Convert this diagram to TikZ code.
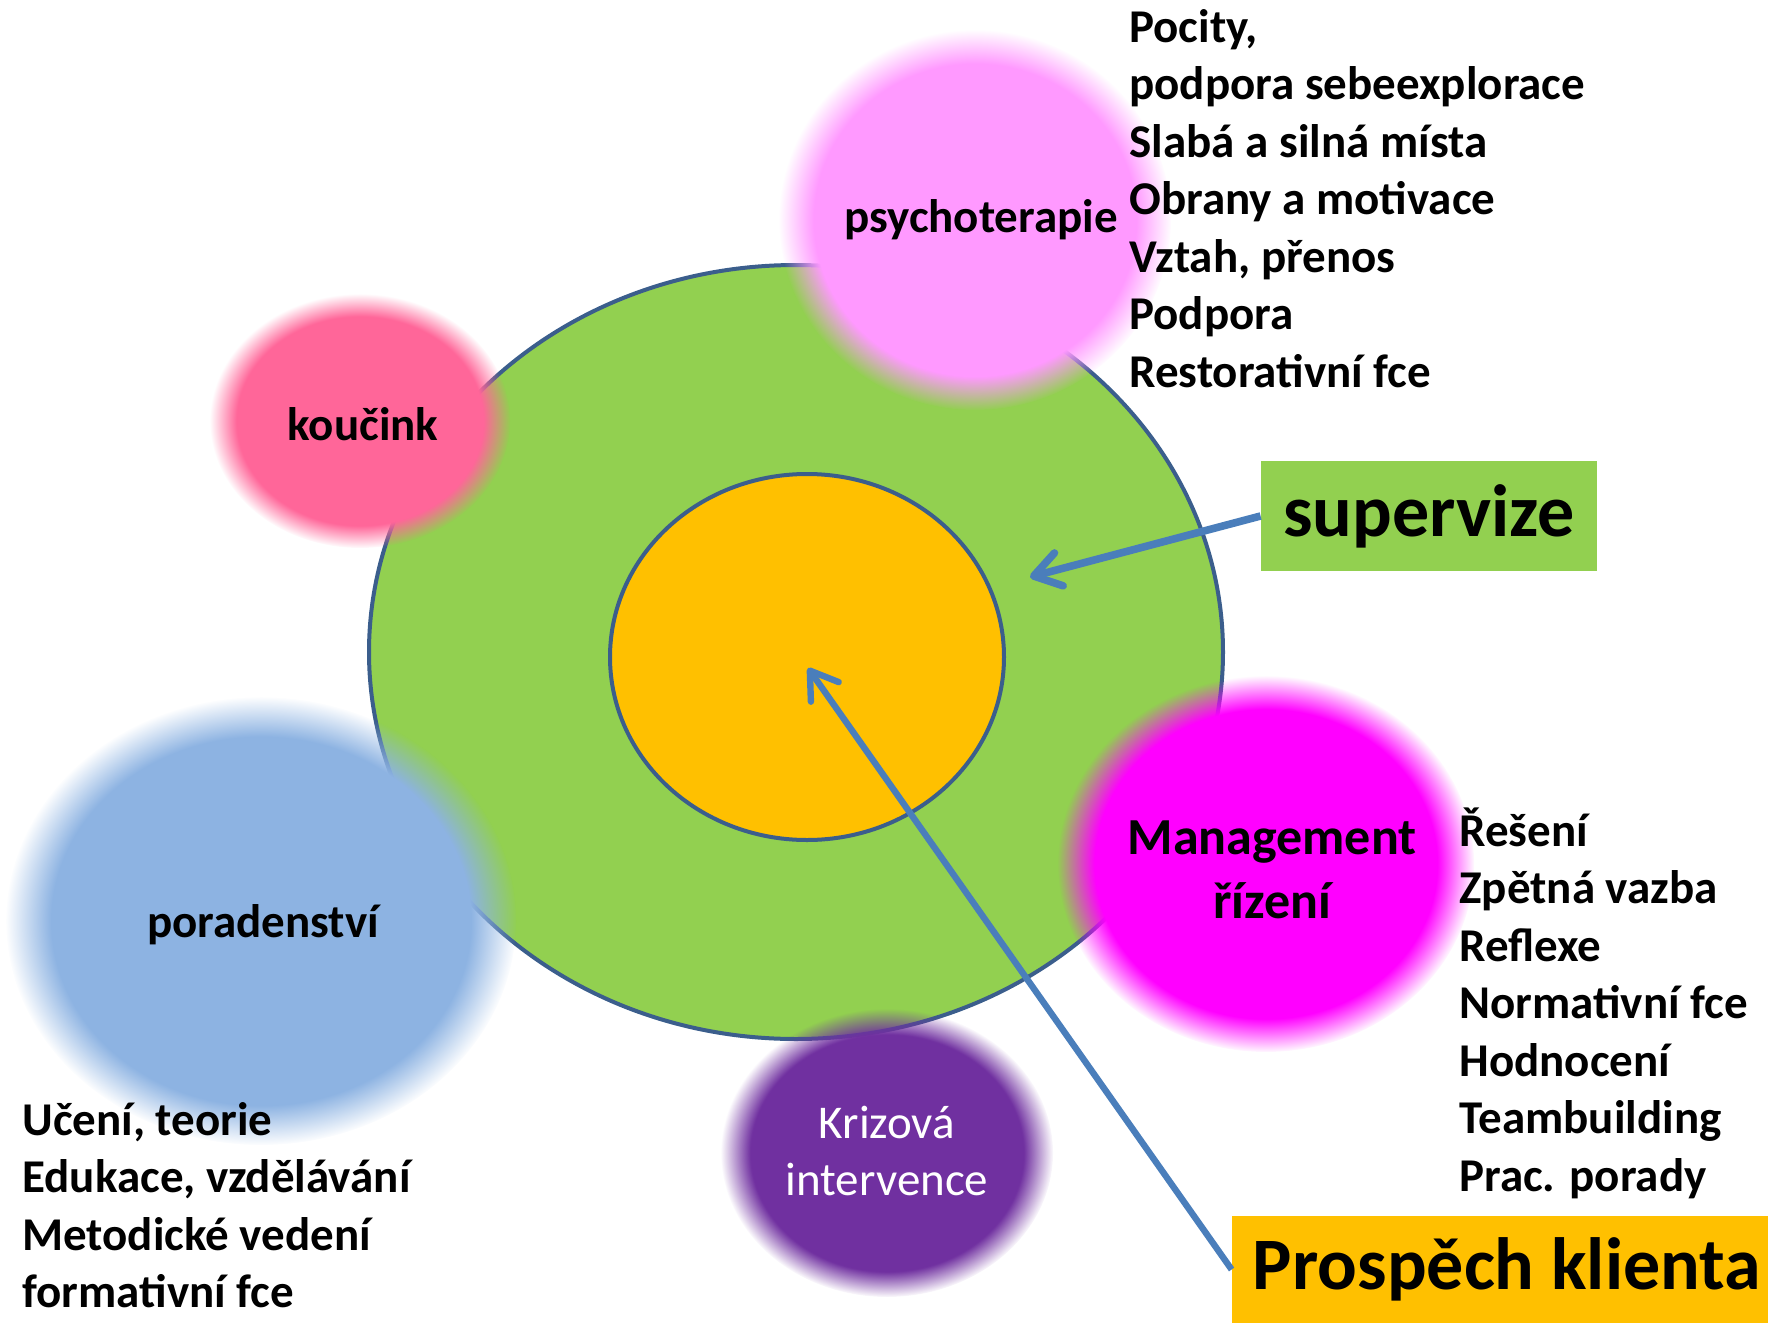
\documentclass[tikz,border=0pt]{standalone}
\usepackage{fontspec}
\setmainfont{Carlito}
\usetikzlibrary{arrows.meta,fadings}

\definecolor{ringgreen}{HTML}{92D050}
\definecolor{coreorange}{HTML}{FFC000}
\definecolor{ringline}{HTML}{3B5E8C}
\definecolor{arrowblue}{HTML}{4A7EBB}
\definecolor{koucinkpink}{HTML}{FF6699}
\definecolor{psychopink}{HTML}{FF99FF}
\definecolor{poradblue}{HTML}{8DB3E2}
\definecolor{managmagenta}{HTML}{FF00FF}
\definecolor{krizepurple}{HTML}{7030A0}

% soft edged disc, white = opaque, black = transparent
\pgfdeclareradialshading{blobshade}{\pgfpointorigin}{color(0bp)=(white); color(20.5bp)=(white); color(25bp)=(black); color(50bp)=(black)}
\pgfdeclarefading{blob}{\pgfuseshading{blobshade}}

\tikzset{
  fuzzy/.style={fill=#1, path fading=blob},
  ring/.style={draw=ringline, line width=2pt, fill=#1},
  lbl/.style={inner sep=0pt, font=\fontsize{23.5}{28.75}\selectfont\bfseries},
  listline/.style={lbl, anchor=base west},
  bigbox/.style={inner sep=0pt, font=\fontsize{37}{44}\selectfont\bfseries},
  pointer/.style={draw=arrowblue, line width=#1, -{Straight Barb[length=13pt,width=17pt,round]}}
}

\begin{document}
\begin{tikzpicture}[x=0.5pt, y=-0.5pt]
\useasboundingbox (0,0) rectangle (1768,1323);

% rings
\draw[ring=ringgreen] (796,652) ellipse (213.5pt and 193.5pt);
\draw[ring=coreorange] (807,657) ellipse (98.5pt and 91.5pt);

% soft blobs
\fill[fuzzy=koucinkpink] (360,421) ellipse (75pt and 63.5pt);
\fill[fuzzy=psychopink] (975,220) ellipse (98pt and 95pt);
\fill[fuzzy=poradblue] (261,921) ellipse (127.5pt and 112pt);
\fill[fuzzy=managmagenta] (1266,864) ellipse (104pt and 94pt);
\fill[fuzzy=krizepurple] (887,1153) ellipse (83pt and 72pt);

% labels
\node[lbl] (koucink) at (363,424) {koučink};
\node[lbl] (psycho) at (981,220) {psychoterapie};
\node[lbl] (porad) at (263,925) {poradenství};
\node[lbl, font=\fontsize{26}{32}\selectfont\bfseries, align=center] (manag) at (1272,870) {Management\\řízení};
\node[lbl, font=\fontsize{23.5}{28.5}\selectfont, text=white, align=center] (krize) at (887,1151) {Krizová\\intervence};

% lists
\foreach \txt [count=\i from 0] in {{Pocity,}, podpora sebeexplorace, Slabá a silná místa, Obrany a motivace, {Vztah, přenos}, Podpora, Restorativní fce}
  \node[listline] (psy-\i) at (1129,{42+57.5*\i}) {\txt};
\foreach \txt [count=\i from 0] in {Řešení, Zpětná vazba, Reflexe, Normativní fce, Hodnocení, Teambuilding, Prac. porady}
  \node[listline] (man-\i) at (1459,{846+57.5*\i}) {\txt};
\foreach \txt [count=\i from 0] in {{Učení, teorie}, {Edukace, vzdělávání}, Metodické vedení, formativní fce}
  \node[listline] (por-\i) at (22,{1135+57.5*\i}) {\txt};

% boxes
\node[bigbox, fill=ringgreen, minimum width=168pt, minimum height=55pt] (supervize) at (1429,516) {supervize};
\node[bigbox, fill=coreorange, minimum width=275pt, minimum height=53.5pt] (prospech) at (1507,1269.5) {Prospěch klienta};

% pointers
\coordinate (ringpoint) at (1030,577);
\coordinate (corepoint) at (808,668);
\draw[pointer=3.8pt] (supervize.west) -- (ringpoint);
\draw[pointer=3.2pt] (prospech.west) -- (corepoint);
\end{tikzpicture}
\end{document}
